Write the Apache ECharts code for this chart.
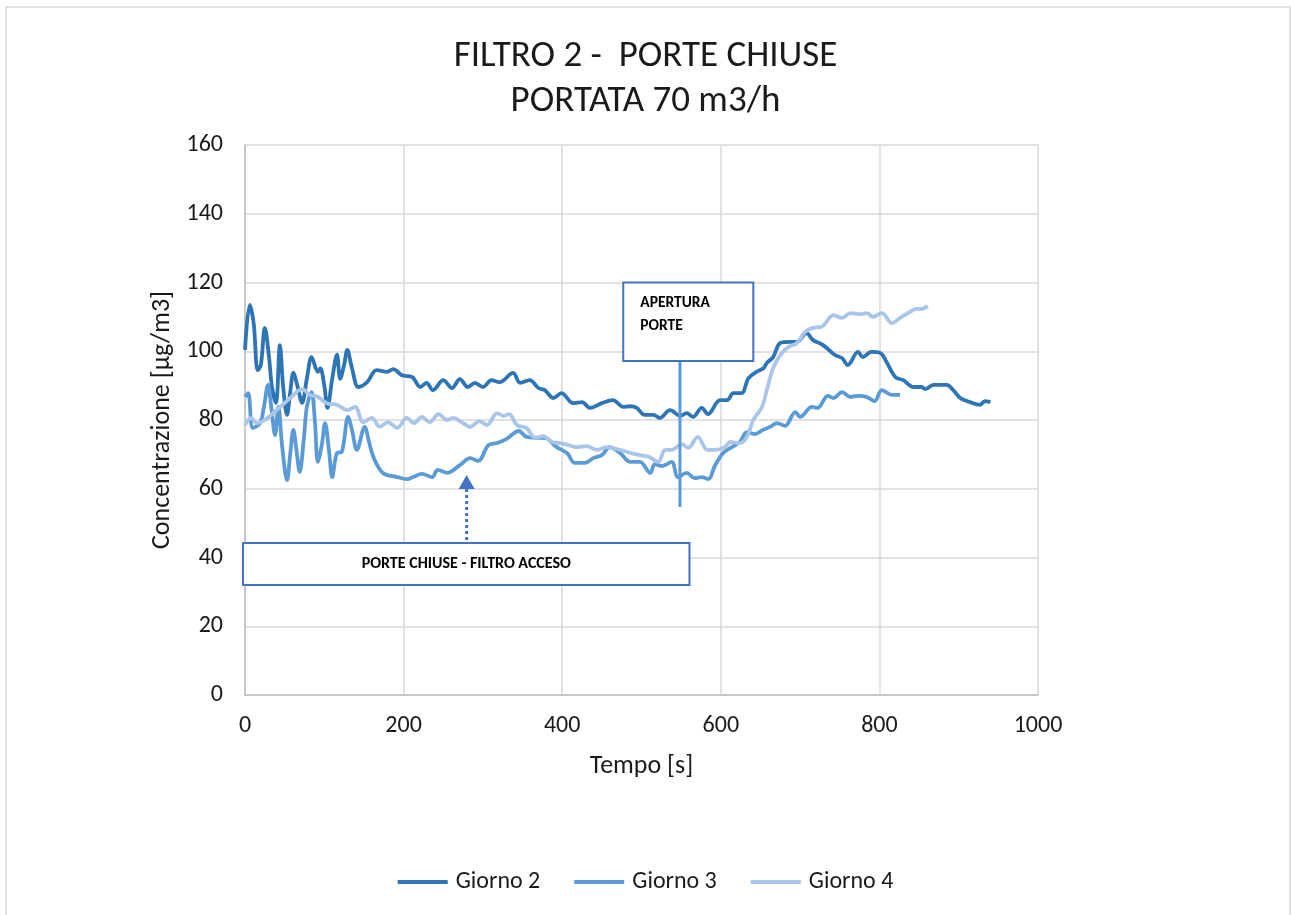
<!DOCTYPE html>
<html>
<head>
<meta charset="utf-8">
<script src="https://cdn.jsdelivr.net/npm/echarts@6/dist/echarts.min.js"></script>
<style>html,body{margin:0;padding:0;background:#fff;}#c{width:1291px;height:915px;}</style>
</head>
<body>
<div id="c"></div>
<script>
const seriesNames = ['Giorno 2', 'Giorno 3', 'Giorno 4'];
const giorno2 = [[0,100.4],[6,113.5],[11,108],[16,94.5],[20,96],[25,106.8],[30,99],[34,89.6],[39,85],[44,101.8],[48,90],[53,81.5],[57,88],[61,93.7],[66,90],[72,85],[78,92],[84,98.3],[92,94],[95,95],[100,90],[104,83.5],[110,92],[116,99],[120,92],[125,96],[129,100.4],[135,95],[143,89.6],[154,91],[166,94.5],[179,94],[187,94.8],[198,93],[211,92.5],[221,89.6],[229,90.8],[237,88.7],[250,91.6],[261,89.3],[271,91.9],[281,89.6],[290,90.8],[300,89.6],[311,91.6],[321,91],[338,93.7],[347,90.8],[359,91.6],[370,89.3],[378,88.7],[389,86.4],[399,87.8],[414,84.9],[425,85.2],[435,83.5],[450,84.9],[464,85.8],[477,83.8],[486,84],[494,83.5],[504,81.5],[515,81.5],[523,80.6],[536,82.9],[549,81.2],[557,82],[565,80.9],[576,83.5],[584,81.7],[599,85.8],[608,85.8],[616,87.8],[626,87.8],[635,92.2],[645,94],[654,95.1],[658,96.6],[666,98.3],[675,102.4],[687,102.7],[696,102.7],[708,105.3],[716,103.3],[729,101.8],[744,98.9],[753,98],[760,96],[773,99.8],[779,98.3],[790,99.8],[801,99.5],[809,96.9],[820,92.5],[830,91.6],[843,89.6],[853,89.6],[858,89],[868,90.2],[885,90.2],[893,88.7],[902,86.4],[914,85.2],[927,84.4],[933,85.5],[940,85.2]];
const giorno3 = [[0,86.7],[4,87.8],[10,77.7],[19,79.1],[24,84],[29,90.2],[33,84],[38,75.6],[42,83.8],[47,72],[53,62.5],[57,70],[61,77.1],[65,71],[69,64.9],[74,74],[78,83.8],[84,88.1],[88,80],[92,67.8],[97,73],[101,79.1],[106,71],[110,63.4],[116,70.4],[122,70.7],[130,80.9],[135,77],[141,71.3],[151,78],[156,74],[162,69.2],[174,64.6],[192,63.4],[204,62.8],[213,63.5],[223,64.3],[236,63.4],[243,65.5],[255,64.6],[271,66.9],[284,68.9],[294,68.1],[307,72.7],[318,73.3],[330,74.5],[345,76.8],[355,75.1],[366,74.8],[378,74.8],[393,72.1],[406,70.4],[416,67.5],[429,67.5],[439,68.9],[450,69.8],[460,72.1],[473,70.4],[486,67.8],[498,67.8],[511,64.6],[517,67.2],[526,66.6],[538,67.8],[546,63.4],[557,64.6],[567,63.1],[576,63.4],[584,62.8],[593,66.9],[603,70.4],[614,72.1],[624,73.6],[633,76.5],[643,75.9],[653,77.1],[662,78],[671,79.1],[681,78.3],[694,82.3],[700,80.9],[715,83.8],[722,83.5],[735,87],[742,86.4],[753,88.1],[763,86.7],[773,87],[784,86.7],[794,85.5],[803,88.7],[816,87.3],[826,87.3]];
const giorno4 = [[0,78.5],[8,80.6],[15,79.1],[25,80],[40,82.9],[57,86.4],[72,89],[82,87.3],[92,86.7],[103,84.9],[116,84.4],[129,82.9],[139,83.8],[149,79.4],[160,80.6],[170,78],[180,79.4],[192,77.7],[204,80.6],[213,79.1],[223,80.9],[233,79.4],[244,81.7],[255,80],[263,80.6],[273,79.4],[284,78],[296,79.7],[305,78.5],[318,82],[326,81.2],[333,81.7],[343,78.5],[355,77.7],[366,74.8],[376,75.3],[387,73.6],[397,73.3],[408,72.7],[418,72.1],[431,72.4],[444,71.3],[456,72.1],[473,71.3],[486,70.4],[498,69.8],[510,69.2],[521,67.8],[530,71.3],[538,71.3],[551,73],[559,71.9],[571,75.1],[583,71.3],[593,71.3],[605,72.1],[612,73.6],[624,73.3],[633,75.1],[641,80],[652,83.8],[658,88.7],[666,95.1],[675,98.9],[685,101.2],[696,102.4],[706,105.6],[716,106.8],[727,107.1],[742,110.5],[753,109.7],[763,111.1],[776,110.8],[784,111.1],[792,110],[803,111.1],[816,108.2],[826,109.7],[836,111.1],[847,112.3],[853,112.3],[861,113.2]];

// annotations (data units)
const boxApertura = {x: [477, 641], y: [97.2, 120], text: ['APERTURA', 'PORTE']};
const lineApertura = {x: 548.5, y: [97.2, 54.7]};
const boxChiuse = {x: [-2.5, 560.5], y: [32, 44.2], text: 'PORTE CHIUSE - FILTRO ACCESO'};
const arrowChiuse = {x: 279.5, y: [44.5, 64]};

const colors = ['#2E75B6', '#5B9BD5', '#A9C5EA'];
const FONT = "Carlito, 'Liberation Sans', sans-serif";

const chart = echarts.init(document.getElementById('c'), null, {renderer: 'canvas'});
const allData = [giorno2, giorno3, giorno4];
chart.setOption({
  animation: false,
  backgroundColor: '#fff',
  title: {
    text: 'FILTRO 2 -  PORTE CHIUSE\nPORTATA 70 m3/h',
    left: 'center', top: 29,
    textStyle: {fontFamily: FONT, fontSize: 37, fontWeight: 'normal', color: '#1a1a1a', lineHeight: 45}
  },
  legend: {
    bottom: 16, left: 'center',
    itemWidth: 50, itemHeight: 4, itemGap: 34,
    icon: 'rect',
    textStyle: {fontFamily: FONT, fontSize: 24, color: '#1a1a1a', padding: [0, 0, 0, 3]},
    data: seriesNames
  },
  grid: {left: 245, right: 253, top: 145, bottom: 220, containLabel: false},
  xAxis: {
    type: 'value', min: 0, max: 1000, interval: 200,
    name: 'Tempo [s]', nameLocation: 'middle', nameGap: 58,
    nameTextStyle: {fontFamily: FONT, fontSize: 26, color: '#1a1a1a'},
    axisLine: {show: true, lineStyle: {color: '#bfbfbf', width: 1.5}},
    axisTick: {show: false},
    axisLabel: {fontFamily: FONT, fontSize: 24, color: '#1a1a1a', margin: 19, formatter: v => String(v)},
    splitLine: {show: true, lineStyle: {color: '#d9d9d9', width: 1.5}}
  },
  yAxis: {
    type: 'value', min: 0, max: 160, interval: 20,
    name: 'Concentrazione [µg/m3]', nameLocation: 'middle', nameGap: 66,
    nameTextStyle: {fontFamily: FONT, fontSize: 26, color: '#1a1a1a'},
    axisLine: {show: true, lineStyle: {color: '#bfbfbf', width: 1.5}},
    axisTick: {show: false},
    axisLabel: {fontFamily: FONT, fontSize: 24, color: '#1a1a1a', margin: 22},
    splitLine: {show: true, lineStyle: {color: '#d9d9d9', width: 1.5}}
  },
  series: seriesNames.map((n, i) => ({
    name: n, type: 'line', data: allData[i], symbol: 'none', smooth: 0.35,
    color: colors[i],
    lineStyle: {width: 3.8, color: colors[i]}
  }))
});

function px(x, y) { return chart.convertToPixel({gridIndex: 0}, [x, y]); }

const b1a = px(boxApertura.x[0], boxApertura.y[1]);
const b1b = px(boxApertura.x[1], boxApertura.y[0]);
const l1a = px(lineApertura.x, lineApertura.y[0]);
const l1b = px(lineApertura.x, lineApertura.y[1]);
const b2a = px(boxChiuse.x[0], boxChiuse.y[1]);
const b2b = px(boxChiuse.x[1], boxChiuse.y[0]);
const a1 = px(arrowChiuse.x, arrowChiuse.y[0]);
const a2 = px(arrowChiuse.x, arrowChiuse.y[1]);

chart.setOption({
  graphic: [
    {type: 'rect', shape: {x: 6, y: 7, width: 1284, height: 920}, style: {fill: 'none', stroke: '#d9d9d9', lineWidth: 1.5}, silent: true, z: 0},
    {type: 'line', shape: {x1: l1a[0], y1: l1a[1], x2: l1b[0], y2: l1b[1]}, style: {stroke: '#5B9BD5', lineWidth: 3}, z: 100},
    {type: 'rect', shape: {x: b1a[0], y: b1a[1], width: b1b[0] - b1a[0], height: b1b[1] - b1a[1]}, style: {fill: '#fff', stroke: '#4472C4', lineWidth: 2}, z: 101},
    {type: 'text', x: b1a[0] + 17, y: b1a[1] + 9, style: {text: boxApertura.text.join('\n'), fontFamily: FONT, fontSize: 15.5, fontWeight: 'bold', fill: '#000', lineHeight: 23}, z: 102},
    {type: 'line', shape: {x1: a1[0], y1: a1[1] - 2, x2: a2[0], y2: a2[1] + 12}, style: {stroke: '#4472C4', lineWidth: 3, lineDash: [3, 3]}, z: 100},
    {type: 'polygon', shape: {points: [[a2[0], a2[1]], [a2[0] - 8, a2[1] + 14], [a2[0] + 8, a2[1] + 14]]}, style: {fill: '#4472C4'}, z: 100},
    {type: 'rect', shape: {x: b2a[0], y: b2a[1], width: b2b[0] - b2a[0], height: b2b[1] - b2a[1]}, style: {fill: '#fff', stroke: '#4472C4', lineWidth: 2}, z: 101},
    {type: 'text', x: (b2a[0] + b2b[0]) / 2, y: (b2a[1] + b2b[1]) / 2, style: {text: boxChiuse.text, fontFamily: FONT, fontSize: 16, fontWeight: 'bold', fill: '#000', align: 'center', verticalAlign: 'middle'}, z: 102}
  ]
});
</script>
</body>
</html>
